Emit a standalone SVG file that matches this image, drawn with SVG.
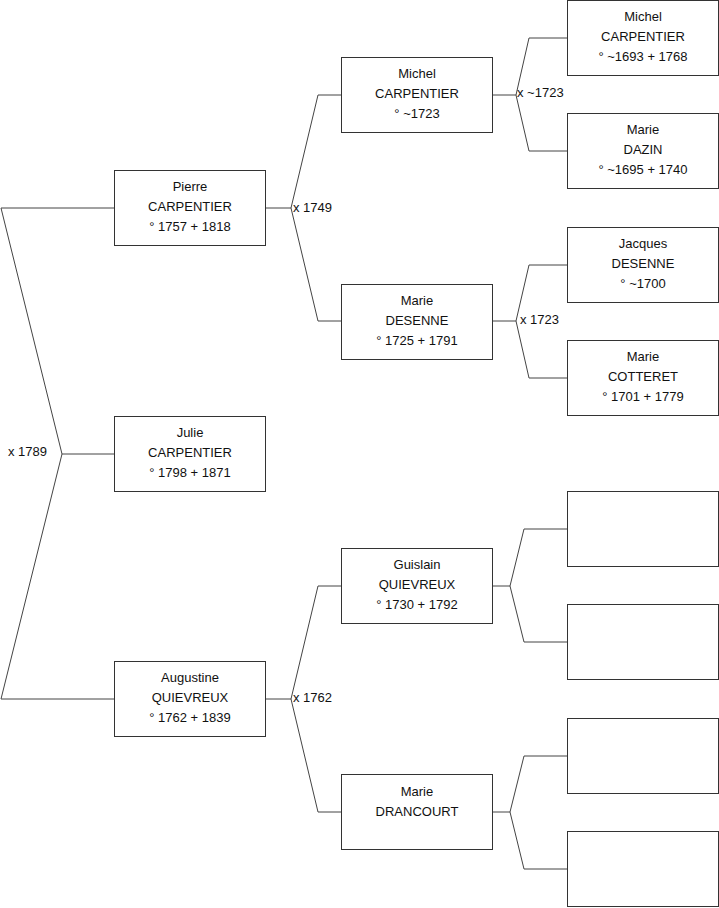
<svg xmlns="http://www.w3.org/2000/svg" width="719" height="908" viewBox="0 0 719 908">
<style>
.box{fill:#fff;stroke:#333;stroke-width:1}
.t{font-family:"Liberation Sans",Arial,sans-serif;font-size:13px;fill:#111;text-anchor:middle}
.l{font-family:"Liberation Sans",Arial,sans-serif;font-size:13px;fill:#111}
.c{fill:none;stroke:#444;stroke-width:1}
</style>
<rect width="719" height="908" fill="#fff"/>
<g id="connectors">
<polyline class="c" points="114,208 1,208 62,454 1,699 114,699"/>
<line class="c" x1="62" y1="454" x2="114" y2="454"/>
<polyline class="c" points="341,95 318,95 291,208 318,321 341,321"/>
<line class="c" x1="265" y1="208" x2="291" y2="208"/>
<polyline class="c" points="341,586 318,586 291,699 318,812 341,812"/>
<line class="c" x1="265" y1="699" x2="291" y2="699"/>
<polyline class="c" points="567,38 529,38 516,95 529,151 567,151"/>
<line class="c" x1="492" y1="95" x2="516" y2="95"/>
<polyline class="c" points="567,265 529,265 516,321 529,378 567,378"/>
<line class="c" x1="492" y1="321" x2="516" y2="321"/>
<polyline class="c" points="567,529 524,529 510,586 524,642 567,642"/>
<line class="c" x1="492" y1="586" x2="510" y2="586"/>
<polyline class="c" points="567,756 524,756 510,812 524,869 567,869"/>
<line class="c" x1="492" y1="812" x2="510" y2="812"/>
<text class="l" x="293" y="212">x 1749</text>
<text class="l" x="293" y="702">x 1762</text>
<text class="l" x="517" y="97">x ~1723</text>
<text class="l" x="520" y="324">x 1723</text>
<text class="l" x="47" y="456" text-anchor="end">x 1789</text>
</g>
<g id="pierre"><rect class="box" x="114.5" y="170.5" width="151" height="75"/>
<text class="t" x="190" y="191">Pierre</text><text class="t" x="190" y="211">CARPENTIER</text><text class="t" x="190" y="231">° 1757 + 1818</text></g>
<g id="julie"><rect class="box" x="114.5" y="416.5" width="151" height="75"/>
<text class="t" x="190" y="437">Julie</text><text class="t" x="190" y="457">CARPENTIER</text><text class="t" x="190" y="477">° 1798 + 1871</text></g>
<g id="augustine"><rect class="box" x="114.5" y="661.5" width="151" height="75"/>
<text class="t" x="190" y="682">Augustine</text><text class="t" x="190" y="702">QUIEVREUX</text><text class="t" x="190" y="722">° 1762 + 1839</text></g>
<g id="michel2"><rect class="box" x="341.5" y="57.5" width="151" height="75"/>
<text class="t" x="417" y="78">Michel</text><text class="t" x="417" y="98">CARPENTIER</text><text class="t" x="417" y="118">° ~1723</text></g>
<g id="marie-desenne"><rect class="box" x="341.5" y="284.5" width="151" height="75"/>
<text class="t" x="417" y="305">Marie</text><text class="t" x="417" y="325">DESENNE</text><text class="t" x="417" y="345">° 1725 + 1791</text></g>
<g id="guislain"><rect class="box" x="341.5" y="548.5" width="151" height="75"/>
<text class="t" x="417" y="569">Guislain</text><text class="t" x="417" y="589">QUIEVREUX</text><text class="t" x="417" y="609">° 1730 + 1792</text></g>
<g id="marie-drancourt"><rect class="box" x="341.5" y="774.5" width="151" height="75"/>
<text class="t" x="417" y="796">Marie</text><text class="t" x="417" y="816">DRANCOURT</text></g>
<g id="michel3"><rect class="box" x="567.5" y="0.5" width="151" height="75"/>
<text class="t" x="643" y="21">Michel</text><text class="t" x="643" y="41">CARPENTIER</text><text class="t" x="643" y="61">° ~1693 + 1768</text></g>
<g id="marie-dazin"><rect class="box" x="567.5" y="113.5" width="151" height="75"/>
<text class="t" x="643" y="134">Marie</text><text class="t" x="643" y="154">DAZIN</text><text class="t" x="643" y="174">° ~1695 + 1740</text></g>
<g id="jacques"><rect class="box" x="567.5" y="227.5" width="151" height="75"/>
<text class="t" x="643" y="248">Jacques</text><text class="t" x="643" y="268">DESENNE</text><text class="t" x="643" y="288">° ~1700</text></g>
<g id="marie-cotteret"><rect class="box" x="567.5" y="340.5" width="151" height="75"/>
<text class="t" x="643" y="361">Marie</text><text class="t" x="643" y="381">COTTERET</text><text class="t" x="643" y="401">° 1701 + 1779</text></g>
<g id="empty1"><rect class="box" x="567.5" y="491.5" width="151" height="75"/></g>
<g id="empty2"><rect class="box" x="567.5" y="604.5" width="151" height="75"/></g>
<g id="empty3"><rect class="box" x="567.5" y="718.5" width="151" height="75"/></g>
<g id="empty4"><rect class="box" x="567.5" y="831.5" width="151" height="75"/></g>
</svg>
